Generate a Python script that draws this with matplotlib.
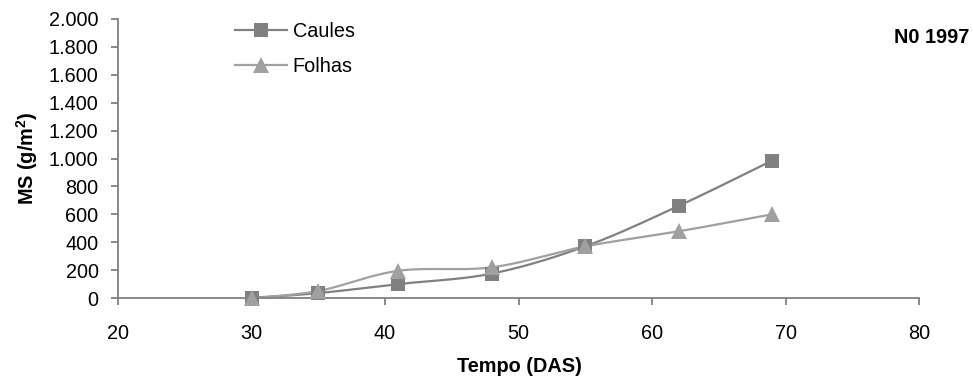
import numpy as np
import matplotlib
matplotlib.use("Agg")
import matplotlib.pyplot as plt
from matplotlib.ticker import FuncFormatter

plt.rcParams['font.family'] = ['Liberation Sans', 'DejaVu Sans']
plt.rcParams['mathtext.fontset'] = 'custom'
plt.rcParams['mathtext.rm'] = 'Liberation Sans'
plt.rcParams['mathtext.bf'] = 'Liberation Sans:bold'

# Days after sowing (DAS) and dry mass (g/m2)
dias = [30, 35, 41, 48, 55, 62, 69]
caules = [0, 35, 100, 175, 370, 660, 985]
folhas = [0, 50, 195, 220, 370, 478, 600]

x_ticks = [20, 30, 40, 50, 60, 70, 80]
y_ticks = [0, 200, 400, 600, 800, 1000, 1200, 1400, 1600, 1800, 2000]

COR_CAULES = '#808080'
COR_FOLHAS = '#a0a0a0'
FS = 14.3


def suaviza(xs, ys, n=30):
    """Smooth curve through the points (cubic Bezier, Catmull-Rom style)."""
    p = np.column_stack([xs, ys]).astype(float)
    out = [p[0]]
    for i in range(len(p) - 1):
        p0 = p[i - 1] if i > 0 else p[i]
        p1, p2 = p[i], p[i + 1]
        p3 = p[i + 2] if i + 2 < len(p) else p[i + 1]
        c1 = p1 + (p2 - p0) / 6.0
        c2 = p2 - (p3 - p1) / 6.0
        t = np.linspace(0, 1, n)[1:, None]
        seg = ((1 - t) ** 3) * p1 + 3 * ((1 - t) ** 2) * t * c1 \
            + 3 * (1 - t) * t ** 2 * c2 + t ** 3 * p2
        out.extend(seg)
    out = np.array(out)
    return out[:, 0], out[:, 1]


fig = plt.figure(figsize=(9.73, 3.83), dpi=100)
ax = fig.add_axes([118 / 973, 1 - 298 / 383, (919 - 118) / 973, (298 - 19) / 383])

for ys, cor, mk, ms, nome in [(caules, COR_CAULES, 's', 10.5, 'Caules'),
                              (folhas, COR_FOLHAS, '^', 11.5, 'Folhas')]:
    sx, sy = suaviza(dias, ys)
    ax.plot(sx, sy, color=cor, lw=1.6, zorder=2)
    ax.plot(dias, ys, linestyle='none', marker=mk, ms=ms, color=cor,
            markeredgewidth=0, clip_on=False, zorder=3)
    ax.plot([], [], color=cor, lw=1.6, marker=mk, ms=ms,
            markeredgewidth=0, label=nome)

ax.set_xlim(20, 80)
ax.set_ylim(0, 2000)
ax.set_xticks(x_ticks)
ax.set_yticks(y_ticks)
ax.yaxis.set_major_formatter(
    FuncFormatter(lambda v, _: f"{int(v):,}".replace(',', '.')))

for s in ['top', 'right']:
    ax.spines[s].set_visible(False)
for s in ['left', 'bottom']:
    ax.spines[s].set_color('#808080')
    ax.spines[s].set_linewidth(1.3)
ax.tick_params(axis='both', direction='out', length=5, width=1.3,
               color='#808080', labelsize=FS, labelcolor='black')
ax.tick_params(axis='x', pad=14)
ax.tick_params(axis='y', pad=9)

fig.text(519 / 973, 1 - 367 / 383, 'Tempo (DAS)', ha='center', va='center',
         fontsize=FS, fontweight='bold')
fig.text(27 / 973, 1 - 158 / 383, r'MS (g/m$^{\mathbf{2}}$)', ha='center',
         va='center', rotation=90, fontsize=FS, fontweight='bold')
fig.text(969 / 973, 1 - 37.5 / 383, 'N0 1997', ha='right', va='center',
         fontsize=FS, fontweight='bold')

ax.legend(loc='upper left', bbox_to_anchor=(235 / 973, 1 - 22 / 383),
          bbox_transform=fig.transFigure, frameon=False, fontsize=FS,
          handlelength=2.6, handletextpad=0.3, labelspacing=0.8,
          borderpad=0, borderaxespad=0)

fig.savefig('out.png', dpi=100)
